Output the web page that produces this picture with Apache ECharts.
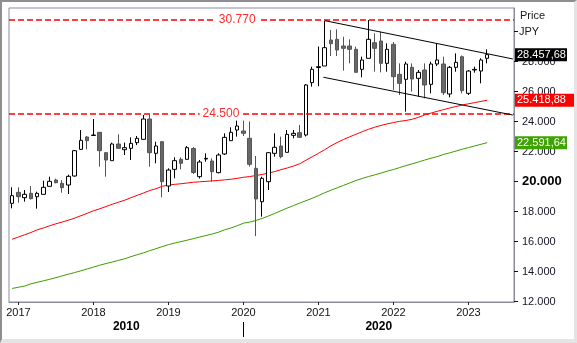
<!DOCTYPE html>
<html>
<head>
<meta charset="utf-8">
<script src="https://cdn.jsdelivr.net/npm/echarts/dist/echarts.min.js"></script>
<style>
html, body { margin: 0; padding: 0; background: #fff; }
#wrap { position: relative; width: 577px; height: 343px; overflow: hidden; }
#chart { position: absolute; left: 0; top: 0; width: 577px; height: 343px; }
#frame { position: absolute; left: 0; top: 0; width: 577px; height: 343px; box-sizing: border-box;
  border-left: 2px solid #8e8e8e; border-top: 2px solid #8e8e8e;
  border-right: 3px solid #e4e4e4; border-bottom: 4px solid #e4e4e4; pointer-events: none; }
</style>
</head>
<body>
<div id="wrap"><div id="chart"></div><div id="frame"></div></div>
<script>
// Monthly bars, Dec 2016 .. Apr 2023
const months = [
  '2016-12',
  '2017-01','2017-02','2017-03','2017-04','2017-05','2017-06','2017-07','2017-08','2017-09','2017-10','2017-11','2017-12',
  '2018-01','2018-02','2018-03','2018-04','2018-05','2018-06','2018-07','2018-08','2018-09','2018-10','2018-11','2018-12',
  '2019-01','2019-02','2019-03','2019-04','2019-05','2019-06','2019-07','2019-08','2019-09','2019-10','2019-11','2019-12',
  '2020-01','2020-02','2020-03','2020-04','2020-05','2020-06','2020-07','2020-08','2020-09','2020-10','2020-11','2020-12',
  '2021-01','2021-02','2021-03','2021-04','2021-05','2021-06','2021-07','2021-08','2021-09','2021-10','2021-11','2021-12',
  '2022-01','2022-02','2022-03','2022-04','2022-05','2022-06','2022-07','2022-08','2022-09','2022-10','2022-11','2022-12',
  '2023-01','2023-02','2023-03','2023-04'
];

const open = [
  18545,
  19278, 18922, 19211, 18989, 19145, 19678, 20100, 19878, 19767, 20367, 22144, 22967,
  23070, 23278, 21922, 21389, 22500, 22122, 22211, 22589, 22811, 24167, 21878, 22655,
  19700, 20811, 21478, 21478, 22200, 20322, 21500, 21367, 20589, 21833, 22722, 23433,
  23367, 22878, 20878, 18655, 19989, 21878, 22367, 21944, 23078, 23255, 23100, 26589,
  27600, 27700, 29433, 29478, 29033, 29033, 28811, 27478, 28211, 29255, 29366, 27878,
  29144, 27144, 26811, 27611, 26878, 27433, 26478, 27833, 27833, 25833, 27611, 28322,
  25878, 27433, 27367, 28211
];
const close = [
  19056,
  18989, 19145, 18856, 19211, 19611, 20011, 19922, 19589, 20345, 22055, 22744, 22722,
  23100, 22055, 21433, 22500, 22211, 22255, 22544, 22878, 24167, 21922, 22367, 19989,
  20767, 21389, 21211, 22255, 20600, 21300, 21544, 20655, 21767, 22944, 23278, 23700,
  23211, 21144, 18833, 20211, 21922, 22278, 21655, 23144, 23211, 22944, 26434, 27478,
  27656, 28922, 29189, 28767, 28878, 28811, 27278, 28100, 29478, 28878, 27878, 28811,
  26989, 26544, 27833, 26833, 27278, 26433, 27833, 28100, 25922, 27611, 27944, 26055,
  27367, 27478, 28100, 28457.68
];
const low = [
  18211,
  18589, 18656, 18800, 18189, 19145, 19678, 19878, 19255, 19167, 20322, 22100, 22144,
  23070, 20989, 20322, 21389, 22211, 21767, 21433, 22433, 22811, 20989, 21211, 18944,
  19300, 20211, 20811, 21478, 20500, 20200, 21322, 19989, 20544, 21767, 22722, 22989,
  23033, 20989, 16358, 17656, 19433, 21655, 21544, 21944, 22878, 22944, 23000, 26323,
  26350, 27700, 28367, 28367, 27389, 27878, 27278, 26945, 28211, 27322, 27278, 27322,
  26100, 25767, 24655, 25989, 25655, 25544, 25878, 27700, 25767, 25611, 27322, 25878,
  25767, 27255, 26544, 27878
];
const high = [
  19611,
  19611, 19433, 19700, 19322, 20055, 20322, 20189, 20100, 20455, 22100, 23433, 23033,
  24167, 23300, 21950, 22589, 23144, 22589, 22944, 23033, 24433, 24478, 22655, 22700,
  20878, 21611, 21611, 22367, 22300, 21433, 21878, 21544, 21878, 23211, 23611, 24055,
  24055, 24000, 21700, 20322, 21950, 23211, 22989, 23433, 23433, 23767, 26500, 27656,
  29000, 30722, 30100, 30145, 29655, 29478, 28989, 28322, 30767, 29878, 29989, 29211,
  29300, 27878, 27989, 27878, 27433, 27878, 27989, 29211, 28322, 27700, 28544, 28400,
  27433, 27655, 28211, 28811
];

// Slow-moving averages (red: medium term, green: long term)
const maRed = [
  16150,
  16300, 16450, 16600, 16780, 16900, 17050, 17180, 17300, 17420, 17560, 17720, 17880,
  18050, 18180, 18330, 18480, 18620, 18750, 18920, 19080, 19230, 19400, 19520, 19680,
  19760, 19810, 19850, 19900, 19950, 19980, 20010, 20040, 20070, 20110, 20150, 20210,
  20280, 20330, 20400, 20470, 20560, 20660, 20790, 20900, 21030, 21180, 21420, 21650,
  21880, 22120, 22380, 22600, 22800, 22980, 23150, 23320, 23480, 23620, 23740, 23840,
  23930, 24010, 24070, 24150, 24280, 24440, 24560, 24680, 24790, 24900, 25000, 25100,
  25180, 25260, 25340, 25418.88
];
const maGreen = [
  12870,
  12950, 13030, 13180, 13280, 13380, 13480, 13590, 13710, 13820, 13930, 14050, 14170,
  14290, 14420, 14530, 14630, 14740, 14850, 14990, 15120, 15240, 15390, 15520, 15660,
  15790, 15900, 15990, 16090, 16190, 16300, 16400, 16500, 16620, 16780, 16900, 17050,
  17220, 17300, 17400, 17540, 17700, 17870, 18050, 18230, 18390, 18560, 18720, 18880,
  19060, 19250, 19420, 19580, 19740, 19900, 20070, 20200, 20330, 20440, 20560, 20690,
  20800, 20930, 21060, 21180, 21300, 21430, 21550, 21660, 21800, 21910, 22030, 22150,
  22260, 22370, 22480, 22591.64
];

// Horizontal support / resistance levels
const levels = [30770, 24500];
// Descending channel: [month index, price] end points
const channelUpper = [[50.06, 30720], [80.1, 28170]];
const channelLower = [[49.8, 26950], [80.1, 24430]];

// Axis labels
const yearTickAt = [1, 13, 25, 37, 49, 61, 73];
const yearLabels = ['2017', '2018', '2019', '2020', '2021', '2022', '2023'];
const decadeStartAt = [37];
const decadeLabels = ['2010', '2020'];
const priceTicks = [12000, 14000, 16000, 18000, 20000, 22000, 24000, 26000, 28000, 30000];

const FONT = '"Liberation Sans", Arial, sans-serif';
const X_MIN = -0.512, X_MAX = 80.288;

function fmtInt(v) {
  return String(Math.round(v)).replace(/\B(?=(\d{3})+(?!\d))/g, '.');
}
function fmtDec(v) {
  const parts = v.toFixed(2).split('.');
  return parts[0].replace(/\B(?=(\d{3})+(?!\d))/g, '.') + ',' + parts[1];
}

const candles = months.map((m, i) => [i, open[i], close[i], low[i], high[i]]);
const redLine = months.map((m, i) => [i, maRed[i]]);
const greenLine = months.map((m, i) => [i, maGreen[i]]);
const last = months.length - 1;

// Decade captions sit in the middle of the visible span of each decade
const decadeMid = [(X_MIN + decadeStartAt[0]) / 2, (decadeStartAt[0] + X_MAX) / 2];

// Price tag at the right of the plot for the latest value of a series
function badge(value, bg, width) {
  return {
    yAxis: value,
    lineStyle: { color: 'rgba(0,0,0,0)', width: 0 },
    label: {
      show: true, position: 'end', distance: 1,
      formatter: fmtDec(value),
      color: '#fff', backgroundColor: bg,
      fontFamily: FONT, fontSize: 11, width: width, overflow: 'none',
      padding: [1, 1, 1, 2], lineHeight: 11
    }
  };
}

const chart = echarts.init(document.getElementById('chart'), null, { renderer: 'canvas' });
chart.setOption({
  animation: false,
  backgroundColor: '#fff',
  grid: { left: 9, right: 63, top: 8, bottom: 41, show: true, borderColor: '#8b8b9b', borderWidth: 1, backgroundColor: 'transparent' },
  xAxis: [
    {
      type: 'value', min: X_MIN, max: X_MAX,
      splitLine: { show: false },
      axisLine: { show: true, onZero: false, lineStyle: { color: '#8b8b9b' } },
      axisTick: { show: true, customValues: yearTickAt, length: 3, lineStyle: { color: '#222' } },
      axisLabel: {
        customValues: yearTickAt, margin: 5,
        formatter: v => yearLabels[yearTickAt.indexOf(Math.round(v))] || '',
        color: '#111', fontFamily: FONT, fontSize: 11
      }
    },
    {
      type: 'value', min: X_MIN, max: X_MAX, position: 'bottom', offset: 20,
      splitLine: { show: false },
      axisLine: { show: false, onZero: false },
      axisTick: { show: true, customValues: decadeStartAt, length: 15, lineStyle: { color: '#000' } },
      axisLabel: {
        customValues: decadeMid, margin: -1,
        formatter: v => (v < decadeStartAt[0] ? decadeLabels[0] : decadeLabels[1]),
        color: '#000', fontFamily: FONT, fontSize: 12, fontWeight: 'bold'
      }
    }
  ],
  yAxis: {
    type: 'value', position: 'right', min: 11967, max: 31567,
    splitLine: { show: false },
    axisLine: { show: true, onZero: false, lineStyle: { color: '#8b8b9b' } },
    axisTick: { show: true, customValues: priceTicks, length: 4, lineStyle: { color: '#111' } },
    axisLabel: {
      customValues: priceTicks, margin: 8,
      formatter: v => v === 30000 ? '' : (v === 20000 ? '{b|' + fmtInt(v) + '}' : fmtInt(v)),
      color: '#141428', fontFamily: FONT, fontSize: 11,
      rich: { b: { fontFamily: FONT, fontSize: 13, fontWeight: 'bold', color: '#000' } }
    }
  },
  graphic: [
    { type: 'text', left: 520, top: 10, style: { text: 'Price', font: '11px ' + FONT, fill: '#1a1a1a' } },
    { type: 'text', left: 519, top: 26, style: { text: 'JPY', font: '11px ' + FONT, fill: '#1a1a1a' } }
  ],
  series: [
    {
      type: 'candlestick',
      data: candles,
      barWidth: 4,
      itemStyle: { color: '#ffffff', color0: '#686868', borderColor: '#000000', borderColor0: '#555555', borderWidth: 1 },
      z: 3,
      markLine: {
        silent: true, symbol: ['none', 'none'], animation: false,
        data: [
          { yAxis: levels[0], lineStyle: { color: '#ff0000', type: [6, 3], width: 1.5 }, label: { show: false } },
          { yAxis: levels[1], lineStyle: { color: '#ff0000', type: [6, 3], width: 1.5 }, label: { show: false } },
          [ { coord: channelUpper[0] }, { coord: channelUpper[1], lineStyle: { color: '#000', width: 1, type: 'solid' }, label: { show: false } } ],
          [ { coord: channelLower[0] }, { coord: channelLower[1], lineStyle: { color: '#000', width: 1, type: 'solid' }, label: { show: false } } ],
          badge(close[last], '#000000', 49)
        ]
      },
      markPoint: {
        silent: true, animation: false,
        symbol: 'circle', symbolSize: 1,
        itemStyle: { color: 'rgba(0,0,0,0)' },
        label: {
          show: true, position: 'inside', formatter: p => fmtInt(p.value),
          color: '#ff2a2a', fontFamily: FONT, fontSize: 12,
          backgroundColor: '#fff', padding: [0, 3]
        },
        data: [
          { coord: [36, levels[0]], value: levels[0] },
          { coord: [33.4, levels[1]], value: levels[1] }
        ]
      }
    },
    {
      type: 'line', data: redLine, symbol: 'none', z: 2,
      lineStyle: { color: '#ff0000', width: 1 },
      markLine: { silent: true, symbol: ['none', 'none'], animation: false, data: [badge(maRed[last], '#ff0000', 56)] }
    },
    {
      type: 'line', data: greenLine, symbol: 'none', z: 2,
      lineStyle: { color: '#3c9c00', width: 1 },
      markLine: { silent: true, symbol: ['none', 'none'], animation: false, data: [badge(maGreen[last], '#3ea200', 49)] }
    }
  ]
});
</script>
</body>
</html>
